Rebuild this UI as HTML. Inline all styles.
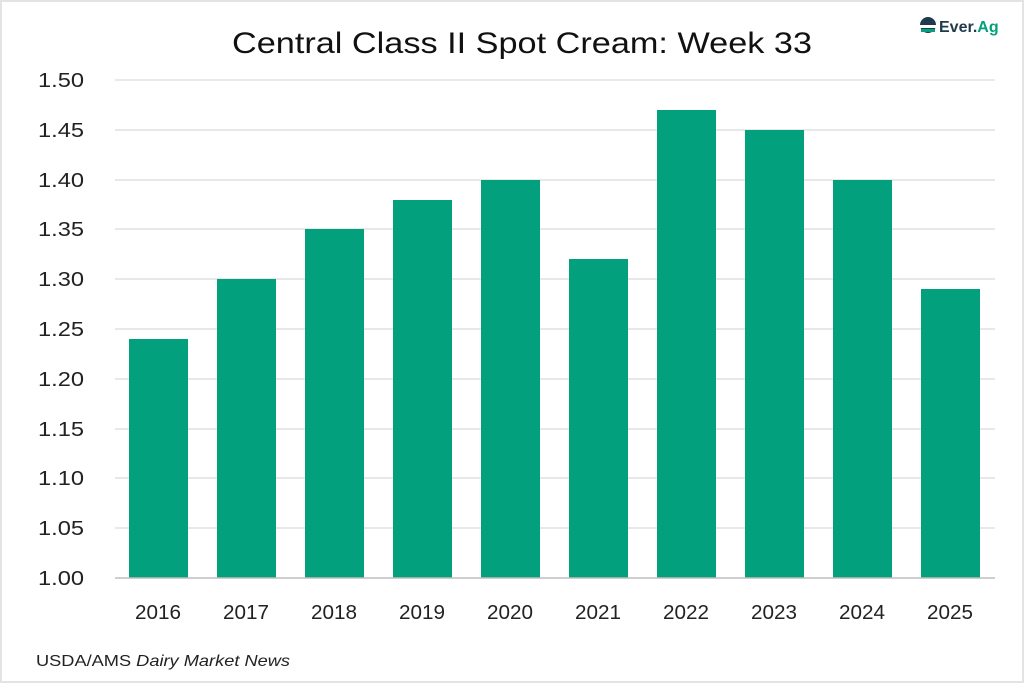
<!DOCTYPE html>
<html><head><style>
body{margin:0;background:#fff}
.f{position:absolute;left:0;top:0;width:1020px;height:679px;border:2px solid #e3e3e3}
</style></head><body>
<div class="f"></div>
<svg width="1024" height="683" style="position:absolute;left:0;top:0" font-family="Liberation Sans, sans-serif">
<text x="232" y="53" font-size="30" fill="#111" textLength="580" lengthAdjust="spacingAndGlyphs">Central Class II Spot Cream: Week 33</text>
<g stroke="#d0d0d0" stroke-width="1">
<line x1="115" x2="995" y1="80" y2="80"/><line x1="115" x2="995" y1="130" y2="130"/><line x1="115" x2="995" y1="180" y2="180"/><line x1="115" x2="995" y1="229" y2="229"/><line x1="115" x2="995" y1="279" y2="279"/><line x1="115" x2="995" y1="329" y2="329"/><line x1="115" x2="995" y1="379" y2="379"/><line x1="115" x2="995" y1="429" y2="429"/><line x1="115" x2="995" y1="478" y2="478"/><line x1="115" x2="995" y1="528" y2="528"/>
</g>
<g fill="#03a07d">
<rect x="129" y="339" width="59" height="239"/>
<rect x="217" y="279" width="59" height="299"/>
<rect x="305" y="229" width="59" height="349"/>
<rect x="393" y="200" width="59" height="378"/>
<rect x="481" y="180" width="59" height="398"/>
<rect x="569" y="259" width="59" height="319"/>
<rect x="657" y="110" width="59" height="468"/>
<rect x="745" y="130" width="59" height="448"/>
<rect x="833" y="180" width="59" height="398"/>
<rect x="921" y="289" width="59" height="289"/>
</g>
<line x1="115" x2="995" y1="578" y2="578" stroke="#bdbdbd" stroke-width="1.5"/>
<g font-size="20" fill="#222">
<text x="38" y="87" textLength="46" lengthAdjust="spacingAndGlyphs">1.50</text><text x="38" y="137" textLength="46" lengthAdjust="spacingAndGlyphs">1.45</text><text x="38" y="187" textLength="46" lengthAdjust="spacingAndGlyphs">1.40</text><text x="38" y="236" textLength="46" lengthAdjust="spacingAndGlyphs">1.35</text><text x="38" y="286" textLength="46" lengthAdjust="spacingAndGlyphs">1.30</text><text x="38" y="336" textLength="46" lengthAdjust="spacingAndGlyphs">1.25</text><text x="38" y="386" textLength="46" lengthAdjust="spacingAndGlyphs">1.20</text><text x="38" y="436" textLength="46" lengthAdjust="spacingAndGlyphs">1.15</text><text x="38" y="485" textLength="46" lengthAdjust="spacingAndGlyphs">1.10</text><text x="38" y="535" textLength="46" lengthAdjust="spacingAndGlyphs">1.05</text><text x="38" y="585" textLength="46" lengthAdjust="spacingAndGlyphs">1.00</text>
</g>
<g font-size="20" fill="#222">
<text x="135" y="619" textLength="46" lengthAdjust="spacingAndGlyphs">2016</text><text x="223" y="619" textLength="46" lengthAdjust="spacingAndGlyphs">2017</text><text x="311" y="619" textLength="46" lengthAdjust="spacingAndGlyphs">2018</text><text x="399" y="619" textLength="46" lengthAdjust="spacingAndGlyphs">2019</text><text x="487" y="619" textLength="46" lengthAdjust="spacingAndGlyphs">2020</text><text x="575" y="619" textLength="46" lengthAdjust="spacingAndGlyphs">2021</text><text x="663" y="619" textLength="46" lengthAdjust="spacingAndGlyphs">2022</text><text x="751" y="619" textLength="46" lengthAdjust="spacingAndGlyphs">2023</text><text x="839" y="619" textLength="46" lengthAdjust="spacingAndGlyphs">2024</text><text x="927" y="619" textLength="46" lengthAdjust="spacingAndGlyphs">2025</text>
</g>
<text x="36" y="666" font-size="16" fill="#222" textLength="254" lengthAdjust="spacingAndGlyphs">USDA/AMS <tspan font-style="italic">Dairy Market News</tspan></text>
<circle cx="928" cy="25" r="8" fill="#1e3a4c"/>
<rect x="920" y="25" width="16" height="3" fill="#fff"/>
<rect x="921" y="29" width="14" height="3" fill="#03a07d"/>
<text x="939" y="32" font-size="16" font-weight="bold" fill="#1e3a4c">Ever.<tspan fill="#03a07d">Ag</tspan></text>
</svg>
</body></html>
